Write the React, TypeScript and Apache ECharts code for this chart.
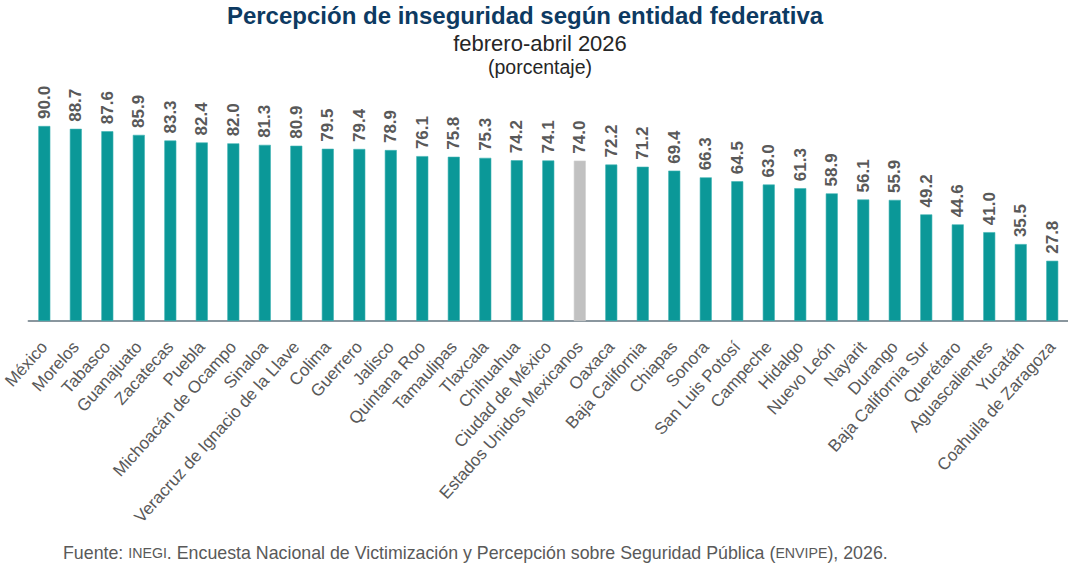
import React, { useEffect, useRef } from "react";
import * as echarts from "echarts";

const categories = [
  "México", "Morelos", "Tabasco", "Guanajuato", "Zacatecas", "Puebla",
  "Michoacán de Ocampo", "Sinaloa", "Veracruz de Ignacio de la Llave", "Colima",
  "Guerrero", "Jalisco", "Quintana Roo", "Tamaulipas", "Tlaxcala", "Chihuahua",
  "Ciudad de México", "Estados Unidos Mexicanos", "Oaxaca", "Baja California",
  "Chiapas", "Sonora", "San Luis Potosí", "Campeche", "Hidalgo", "Nuevo León",
  "Nayarit", "Durango", "Baja California Sur", "Querétaro", "Aguascalientes",
  "Yucatán", "Coahuila de Zaragoza",
];

const values = [
  90.0, 88.7, 87.6, 85.9, 83.3, 82.4, 82.0, 81.3, 80.9, 79.5, 79.4, 78.9,
  76.1, 75.8, 75.3, 74.2, 74.1, 74.0, 72.2, 71.2, 69.4, 66.3, 64.5, 63.0,
  61.3, 58.9, 56.1, 55.9, 49.2, 44.6, 41.0, 35.5, 27.8,
];

const nationalCategory = "Estados Unidos Mexicanos";

const titleText = "Percepción de inseguridad según entidad federativa";
const subtitleText = "febrero-abril 2026";
const unitText = "(porcentaje)";
const sourceText =
  "Fuente: {s|INEGI}. Encuesta Nacional de Victimización y Percepción sobre Seguridad Pública ({s|ENVIPE}), 2026.";

const FONT = "'Liberation Sans', Arial, sans-serif";
const TEAL = "#0b9898";
const GRAY = "#c1c1c1";
const LABEL = "#595959";

export default function App() {
  const ref = useRef<HTMLDivElement>(null);

  useEffect(() => {
    document.body.style.margin = "0";
    if (!ref.current) return;
    const chart = echarts.init(ref.current, null, { renderer: "svg" });
    chart.setOption({
      animation: false,
      backgroundColor: "#ffffff",
      textStyle: { fontFamily: FONT },
      grid: { left: 27, right: 0, top: 126, bottom: 249, containLabel: false },
      xAxis: {
        type: "category",
        data: categories,
        axisLine: { lineStyle: { color: "#8a969e", width: 2 } },
        axisTick: { show: false },
        axisLabel: {
          interval: 0,
          rotate: 48,
          color: LABEL,
          fontSize: 17,
          fontFamily: FONT,
          margin: 23,
        },
      },
      yAxis: {
        type: "value",
        min: 0,
        max: 90,
        show: false,
        splitLine: { show: false },
      },
      series: [
        {
          type: "bar",
          barWidth: 12,
          data: values.map((v, i) => ({
            value: v,
            itemStyle: {
              color: categories[i] === nationalCategory ? GRAY : TEAL,
              borderColor: categories[i] === nationalCategory ? "#d0d0d0" : "#3fb3b3",
              borderWidth: 0.6,
            },
          })),
          label: {
            show: true,
            position: "top",
            rotate: 90,
            align: "left",
            verticalAlign: "middle",
            distance: 7,
            color: LABEL,
            fontSize: 17,
            fontWeight: "bold",
            fontFamily: FONT,
            formatter: (p: any) => Number(p.value).toFixed(1),
          },
        },
      ],
      graphic: [
        {
          type: "text",
          x: 525,
          y: 15,
          style: {
            text: titleText,
            fill: "#0d3a62",
            fontSize: 24,
            fontWeight: "bold",
            fontFamily: FONT,
            textAlign: "center",
            textVerticalAlign: "middle",
          },
        },
        {
          type: "text",
          x: 540,
          y: 43,
          style: {
            text: subtitleText,
            fill: "#262626",
            fontSize: 22,
            fontFamily: FONT,
            textAlign: "center",
            textVerticalAlign: "middle",
          },
        },
        {
          type: "text",
          x: 540,
          y: 67,
          style: {
            text: unitText,
            fill: "#262626",
            fontSize: 19.5,
            fontFamily: FONT,
            textAlign: "center",
            textVerticalAlign: "middle",
          },
        },
        {
          type: "text",
          x: 63,
          y: 553,
          style: {
            text: sourceText,
            fill: LABEL,
            fontSize: 17.8,
            fontFamily: FONT,
            textVerticalAlign: "middle",
            rich: {
              s: { fontSize: 14.2, fill: LABEL, fontFamily: FONT },
            },
          },
        },
      ],
    });
    return () => chart.dispose();
  }, []);

  return <div ref={ref} style={{ width: 1068, height: 570 }} />;
}
